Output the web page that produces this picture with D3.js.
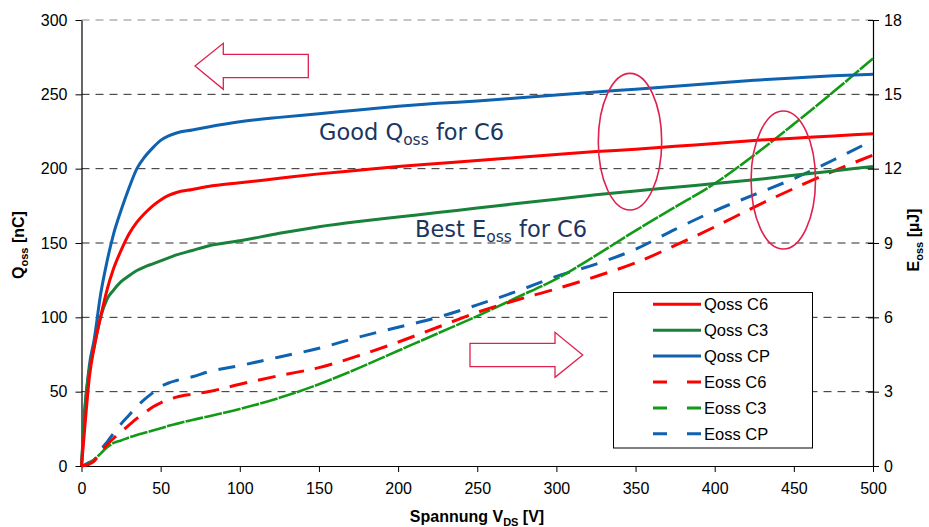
<!DOCTYPE html>
<html>
<head>
<meta charset="utf-8">
<script src="https://cdn.jsdelivr.net/npm/d3@7"></script>
<style>
  html, body { margin: 0; padding: 0; background: #fff; }
  svg { display: block; }
  .tick text { font-family: "Liberation Sans", Arial, sans-serif; font-size: 16px; fill: #000; }
</style>
</head>
<body>
<svg id="chart" width="929" height="527"></svg>
<script>
// Drain-source voltage grid (V)
const voltage = [0, 2, 5, 8, 12, 16, 20, 25, 30, 35, 40, 45, 50, 55, 60, 70, 80, 100, 125, 150,
  175, 200, 225, 250, 275, 300, 325, 350, 375, 400, 425, 450, 475, 500];

// Output charge Qoss (nC)
const qossC6 = [0, 25, 60, 80, 100, 118, 132, 145, 156, 164, 170, 175, 179, 182, 184, 186, 188, 190.5, 193.5, 196.5,
  199, 201.5, 203.5, 205.5, 207.5, 209.5, 211.5, 213, 215, 217, 219, 220.5, 222, 223.5];
const qossC3 = [0, 38, 65, 80, 100, 112, 118, 124, 128, 131.5, 134, 136, 138, 140, 142, 145, 148, 151.5, 156.5, 161,
  164.5, 167.5, 170.5, 173.5, 176.5, 179.5, 182.5, 185, 187.5, 190, 192.5, 195.5, 198.5, 201.5];
const qossCP = [0, 35, 68, 85, 115, 137, 155, 172, 187, 200, 208, 214, 219, 222, 224, 226, 228, 231.5, 234.5, 237,
  239.5, 242, 244, 245.5, 247.5, 249.5, 251.5, 253.5, 255.5, 257.5, 259.5, 261, 262.5, 263.5];

// Stored energy Eoss (µJ)
const eossC6 = [0, 0.02, 0.08, 0.2, 0.55, 0.85, 1.1, 1.38, 1.65, 1.92, 2.15, 2.38, 2.55, 2.68, 2.78, 2.9, 3.0, 3.3, 3.65, 3.97,
  4.45, 5.0, 5.6, 6.2, 6.7, 7.15, 7.65, 8.2, 8.9, 9.65, 10.45, 11.2, 11.9, 12.55];
const eossC3 = [0, 0.03, 0.12, 0.26, 0.5, 0.75, 0.92, 1.03, 1.15, 1.25, 1.34, 1.43, 1.52, 1.62, 1.7, 1.86, 2.0, 2.3, 2.75, 3.3,
  3.95, 4.65, 5.35, 6.05, 6.8, 7.55, 8.5, 9.5, 10.45, 11.4, 12.55, 13.8, 15.1, 16.45];
const eossCP = [0, 0.05, 0.15, 0.25, 0.65, 0.95, 1.3, 1.7, 2.05, 2.4, 2.7, 2.95, 3.2, 3.35, 3.45, 3.6, 3.8, 4.05, 4.4, 4.75,
  5.2, 5.6, 6.0, 6.5, 7.05, 7.65, 8.15, 8.75, 9.55, 10.3, 10.95, 11.6, 12.35, 13.15];

// Axis ticks
const xTicks = [0, 50, 100, 150, 200, 250, 300, 350, 400, 450, 500];
const qTicks = [0, 50, 100, 150, 200, 250, 300];
const eTicks = [0, 3, 6, 9, 12, 15, 18];

const seriesNames = ["Qoss C6", "Qoss C3", "Qoss CP", "Eoss C6", "Eoss C3", "Eoss CP"];

const RED = "#ff0000", GREEN_Q = "#18813a", GREEN_E = "#119a16", BLUE = "#0f62b0";
const ACCENT = "#e0204e", NAVY = "#1c355e";
const FONT = '"Liberation Sans", Arial, sans-serif';

const svg = d3.select("#chart");

const x = d3.scaleLinear().domain([0, 500]).range([81.5, 873]);
const yQ = d3.scaleLinear().domain([0, 300]).range([466, 20]);
const yE = d3.scaleLinear().domain([0, 18]).range([466, 20]);

// Horizontal dashed grid
svg.append("g").selectAll("line")
  .data(qTicks.filter(d => d > 0))
  .join("line")
  .attr("x1", x(0)).attr("x2", x(500))
  .attr("y1", d => yQ(d)).attr("y2", d => yQ(d))
  .attr("stroke", d => d === 300 ? "#8a8a8a" : "#2a2a2a")
  .attr("stroke-width", 1)
  .attr("stroke-dasharray", "8,6");

// Axes
const axL = svg.append("g").attr("transform", `translate(${x(0)},0)`)
  .call(d3.axisLeft(yQ).tickValues(qTicks).tickSizeInner(6).tickSizeOuter(0).tickPadding(8));
const axR = svg.append("g").attr("transform", `translate(${x(500)},0)`)
  .call(d3.axisRight(yE).tickValues(eTicks).tickSizeInner(6).tickSizeOuter(0).tickPadding(5));
axR.selectAll(".tick line").attr("x1", -5);
const axB = svg.append("g").attr("transform", `translate(0,${yQ(0)})`)
  .call(d3.axisBottom(x).tickValues(xTicks).tickSizeInner(6).tickSizeOuter(0).tickPadding(11));
[axL, axR, axB].forEach(a => {
  a.select(".domain").attr("stroke", "#000").attr("stroke-width", 1.2);
  a.selectAll(".tick line").attr("stroke", "#000");
});

// Curves
const seriesData = [
  { values: qossC6, scale: yQ, color: RED, dash: null, width: 3 },
  { values: qossC3, scale: yQ, color: GREEN_Q, dash: null, width: 3 },
  { values: qossCP, scale: yQ, color: BLUE, dash: null, width: 3 },
  { values: eossC6, scale: yE, color: RED, dash: "18,11", width: 3 },
  { values: eossC3, scale: yE, color: GREEN_E, dash: "18,1.2", width: 2.6 },
  { values: eossCP, scale: yE, color: BLUE, dash: "17,12", width: 3 }
];

const plot = svg.append("g");
seriesData.slice().reverse().forEach(s => {
  const line = d3.line()
    .x((d, i) => x(voltage[i]))
    .y(d => s.scale(d))
    .curve(d3.curveMonotoneX);
  plot.append("path")
    .datum(s.values)
    .attr("d", line)
    .attr("fill", "none")
    .attr("stroke", s.color)
    .attr("stroke-width", s.width)
    .attr("stroke-linejoin", "round")
    .attr("stroke-dasharray", s.dash);
});

// Axis titles
function labelWithSub(g, main, sub, rest, size, subSize, weight) {
  const t = g.append("text")
    .attr("font-family", FONT).attr("font-size", size).attr("font-weight", weight);
  t.append("tspan").text(main);
  t.append("tspan").attr("font-size", subSize).attr("dy", 4).text(sub);
  t.append("tspan").attr("dy", -4).text(rest);
  return t;
}

labelWithSub(svg, "Spannung V", "DS", " [V]", 16, 11, "bold")
  .attr("x", 477).attr("y", 522).attr("text-anchor", "middle");

labelWithSub(svg.append("g").attr("transform", "translate(24,245) rotate(-90)"),
  "Q", "oss", " [nC]", 16, 11, "bold").attr("text-anchor", "middle");

labelWithSub(svg.append("g").attr("transform", "translate(919,240) rotate(-90)"),
  "E", "oss", " [µJ]", 16, 11, "bold").attr("text-anchor", "middle");

// Annotations
const ann = svg.append("g").attr("fill", NAVY);
function annText(x0, y0, main, sub, rest) {
  const t = ann.append("text").attr("x", x0).attr("y", y0)
    .attr("font-family", '"DejaVu Sans", Verdana, sans-serif').attr("font-size", 22.5);
  t.append("tspan").text(main);
  t.append("tspan").attr("font-size", 15.5).attr("dy", 5).text(sub);
  t.append("tspan").attr("dy", -5).text(rest);
}
annText(319, 140, "Good Q", "oss", " for C6");
annText(415, 237, "Best E", "oss", " for C6");

// Highlight ellipses
const ell = [
  { cx: 630, cy: 141.7, rx: 31.7, ry: 68.3 },
  { cx: 783.3, cy: 180, rx: 32.2, ry: 69 }
];
svg.append("g").selectAll("ellipse").data(ell).join("ellipse")
  .attr("cx", d => d.cx).attr("cy", d => d.cy)
  .attr("rx", d => d.rx).attr("ry", d => d.ry)
  .attr("fill", "none").attr("stroke", ACCENT).attr("stroke-width", 1.6);

// Hollow arrows: left points to the charge axis, right to the energy axis
const arrowL = [[195, 66], [223.3, 43.3], [223.3, 54.3], [308.3, 54.3], [308.3, 77.7], [223.3, 77.7], [223.3, 89.3]];
const arrowR = [[582.7, 355], [555, 332.3], [555, 343.3], [470, 343.3], [470, 366.7], [555, 366.7], [555, 377.3]];
svg.append("g").selectAll("polygon").data([arrowL, arrowR]).join("polygon")
  .attr("points", d => d.map(p => p.join(",")).join(" "))
  .attr("fill", "#fff").attr("stroke", ACCENT).attr("stroke-width", 1.3);

// Legend
const legend = svg.append("g");
legend.append("rect")
  .attr("x", 613.5).attr("y", 292.5).attr("width", 199).attr("height", 155.5)
  .attr("fill", "#fff").attr("stroke", "#000").attr("stroke-width", 1);
const legendDash = [null, null, null, "14,20,14", "14,20,14", "14,20,14"];
const legendColor = [RED, GREEN_Q, BLUE, RED, GREEN_E, BLUE];
seriesNames.forEach((name, i) => {
  const cy = 304.3 + i * 25.9;
  legend.append("line")
    .attr("x1", 653).attr("x2", 701).attr("y1", cy).attr("y2", cy)
    .attr("stroke", legendColor[i]).attr("stroke-width", 3)
    .attr("stroke-dasharray", legendDash[i]);
  legend.append("text")
    .attr("x", 704).attr("y", cy + 6)
    .attr("font-family", FONT).attr("font-size", 16.5)
    .text(name);
});
</script>
</body>
</html>
